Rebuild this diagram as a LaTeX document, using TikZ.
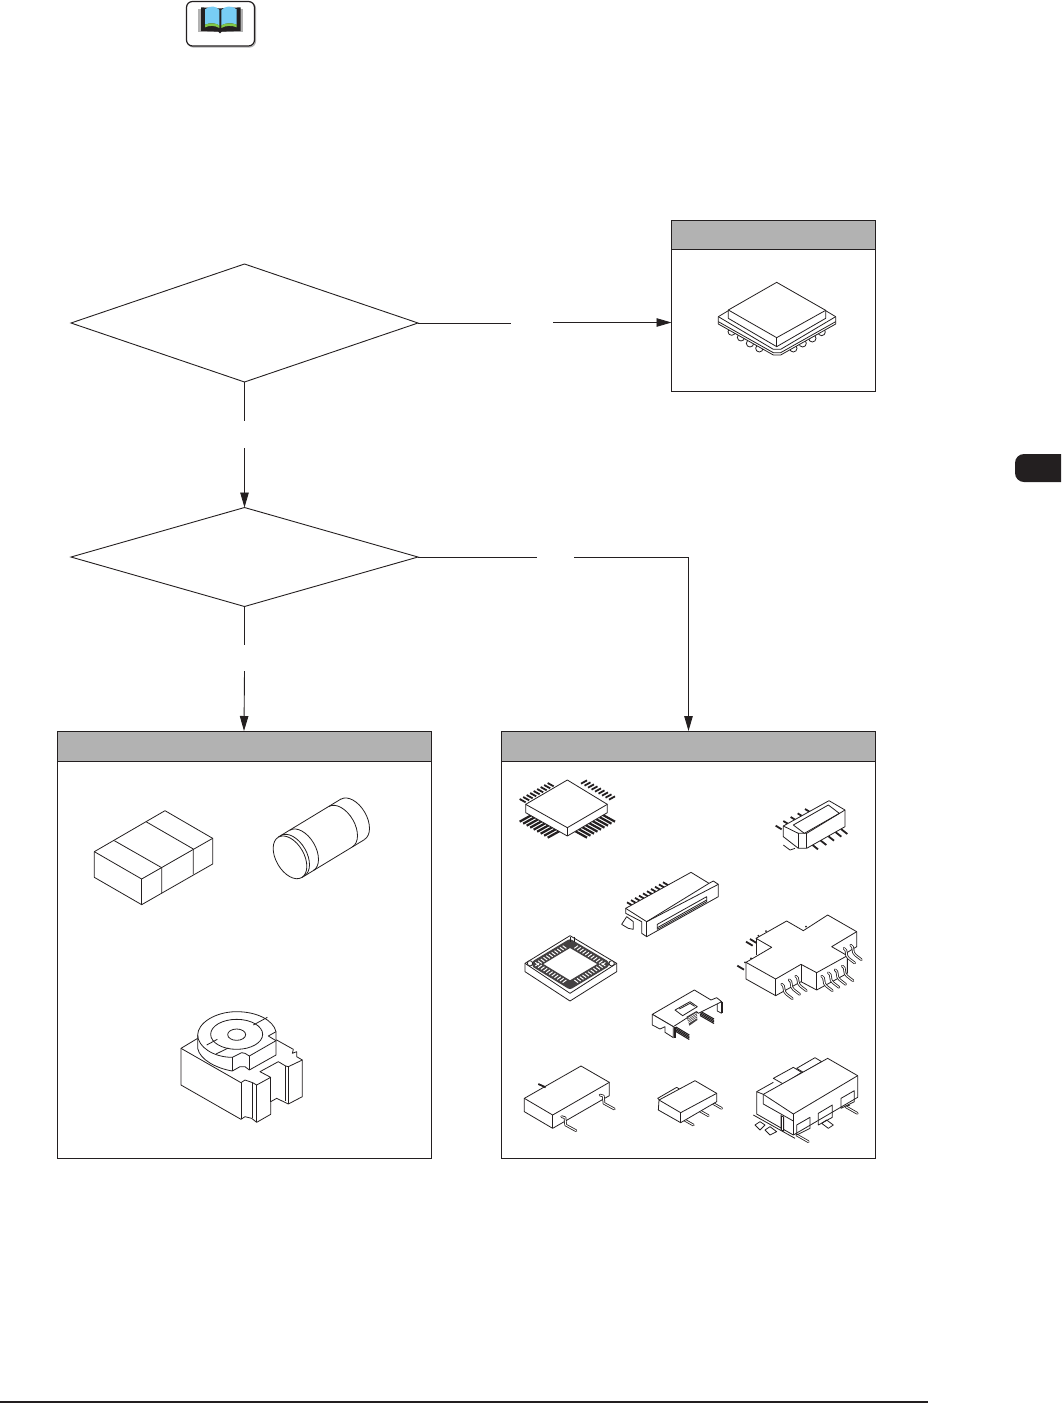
\documentclass[tikz,border=0pt]{standalone}
\usepackage{tikz}
\usetikzlibrary{arrows.meta, positioning, shapes.geometric}
\definecolor{inkdark}{RGB}{35,31,32}
\definecolor{headgray}{RGB}{178,178,178}
\definecolor{pageblue}{RGB}{120,205,245}
\definecolor{pagegreen}{RGB}{130,200,70}

\begin{document}
\begin{tikzpicture}[
    x=1pt, y=-1pt,
    question/.style={diamond, draw=inkdark, line width=0.9pt, minimum width=347pt,
                inner sep=0pt, outer sep=0pt},
    panelbody/.style={rectangle, draw=inkdark, fill=white, line width=1pt, outer sep=0pt},
    panelhead/.style={rectangle, draw=inkdark, fill=headgray, line width=1pt, outer sep=0pt},
    arrow/.style={-{Stealth[length=15pt,width=8.5pt,inset=0pt]}, line width=0.9pt, inkdark},
    plainline/.style={line width=0.9pt, inkdark},
    part/.style 2 args={shift={(#1,#2)}, scale=1/3},
    art/.style={draw=inkdark, line width=0.8pt, line join=round},
    artfill/.style={art, fill=white},
    heavytick/.style={draw=inkdark, line width=1.1pt},
    leadtick/.style={draw=inkdark, line width=1.8pt},
    wingout/.style={draw=inkdark, line width=2.6pt, line cap=round, line join=round},
    wingin/.style={draw=white, line width=1pt, line cap=round, line join=round}
]
\useasboundingbox (0,0) rectangle (1061,1403);

% decisions
\node[question, minimum height=118pt] (firstq) at (244.5,323) {};
\node[question, minimum height=99pt] (secondq) at (244.5,557) {};

% panels
\node[panelbody, minimum width=204pt, minimum height=171pt] (topbody) at (773.5,305.5) {};
\node[panelhead, minimum width=204pt, minimum height=29pt] (tophead) at (773.5,234.5) {};
\node[panelbody, minimum width=374pt, minimum height=427pt] (leftbody) at (244,944.5) {};
\node[panelhead, minimum width=374pt, minimum height=30pt] (lefthead) at (244,746) {};
\node[panelbody, minimum width=374pt, minimum height=427pt] (rightbody) at (688.5,944.5) {};
\node[panelhead, minimum width=374pt, minimum height=30pt] (righthead) at (688.5,746) {};

% connectors, with the gaps they keep
\coordinate (gapA) at (511,323);
\coordinate (gapB) at (553,322.5);
\coordinate (gapC) at (244.5,421);
\coordinate (gapD) at (244.5,448);
\coordinate (gapE) at (244.5,645);
\coordinate (gapF) at (244.5,671);
\coordinate (gapG) at (537,557);
\coordinate (gapH) at (574,557);
\draw[plainline] (firstq.east)--(gapA);
\draw[arrow] (gapB)--(gapB -| topbody.west);
\draw[plainline] (firstq.south)--(gapC);
\draw[arrow] (gapD)--(secondq.north);
\draw[plainline] (secondq.south)--(gapE);
\draw[arrow] (gapF)--(lefthead.north);
\draw[plainline] (secondq.east)--(gapG);
\draw[arrow] (gapH)-|(righthead.north);

% book button
\draw[draw=headgray, line width=1.2pt, rounded corners=6pt] (187.5,2.5) rectangle (255.5,47);
\draw[draw=inkdark, line width=1.2pt, fill=white, rounded corners=6pt] (186.5,1.5) rectangle (254.5,46);
\begin{scope}[part={170}{0}]
\fill[headgray] (85,28) rectangle (220,97);
\fill[inkdark] (93,22) -- (148,25) -- (152,25) -- (212,22) -- (212,93) -- (155,95) -- (150,100) -- (145,95) -- (93,93) -- cycle;
\fill[pageblue] (105,28) .. controls (120,15) and (140,18) .. (148,30) -- (148,76) .. controls (135,68) and (118,68) .. (105,74) -- cycle;
\fill[pageblue] (200,28) .. controls (185,15) and (165,18) .. (154,30) -- (154,76) .. controls (167,68) and (187,68) .. (200,74) -- cycle;
\fill[pagegreen] (105,74) .. controls (118,68) and (135,68) .. (148,76) -- (148,84) .. controls (135,76) and (118,76) .. (105,82) -- cycle;
\fill[pagegreen] (200,74) .. controls (187,68) and (167,68) .. (154,76) -- (154,84) .. controls (167,76) and (187,76) .. (200,82) -- cycle;
\end{scope}

% chapter tab and foot rule
\fill[inkdark] (1061,454) [rounded corners=9pt] -- (1015,454) -- (1015,482) [sharp corners] -- (1061,482) -- cycle;
\fill[inkdark] (0,1401) rectangle (928,1403);

% BGA package
\begin{scope}[part={660}{210}]
\foreach \cx/\cy in {215/365,243/382,270/400,298/415,400/415,428/400,457/385,485/366}
    \draw[artfill] (\cx,\cy) circle (11);
\draw[artfill] (175,320)--(205,302)--(497,302)--(527,320)--(527,342)--(362,435)--(340,435)--(175,342)--cycle;
\draw[art] (175,320)--(340,418)--(362,418)--(527,320);
\draw[art] (175,335)--(340,428)--(362,428)--(527,335);
\draw[artfill] (205,300)--(350,217)--(497,301)--(497,325)--(350,410)--(205,325)--cycle;
\draw[art] (205,300)--(350,383)--(497,301);
\draw[art] (350,383)--(350,410);
\end{scope}

% chip, cylinder and trimmer
\begin{scope}[part={60}{770}]
\draw[art] (103,245)--(315,122)--(458,205)--(458,282)--(245,404)--(103,322)--cycle;
\draw[art] (103,245)--(245,327)--(458,205);
\draw[art] (245,327)--(245,404);
\draw[art] (163,212)--(305,293)--(305,370);
\draw[art] (258,155)--(400,237)--(400,313);
\draw[art] (655,201)--(843,87);
\draw[art] (725,323)--(913,209);
\draw[art, shift={(690,262)}, rotate=-60] (0,0) ellipse (70 and 42);
\foreach \cx/\cy in {698/257,725/241,842/170,878/148}
    \draw[art, shift={(\cx,\cy)}, rotate=-60] (70,0) arc[start angle=0,end angle=-180,x radius=70,y radius=42];

\draw[artfill] (363,835)--(413,805)--(650,810)--(700,838)--(697,850)--(710,845)--(710,860)--(727,870)--(727,980)--(685,1002)--(650,985)--(632,995)--(632,1033)--(590,1057)--(575,1045)--(555,1040)--(543,1048)--(363,945)--cycle;
\draw[art] (363,835)--(543,938)--(555,930)--(578,938)--(590,945)--(632,922)--(600,905)--(655,875)--(677,888)--(685,890)--(727,870);
\draw[art] (543,938)--(543,1048);
\draw[art] (578,938)--(578,1045);
\draw[art] (590,945)--(590,1057);
\draw[art] (632,922)--(632,995);
\draw[art] (677,888)--(677,993);
\draw[art] (685,890)--(685,1002);
\draw[artfill] (413,795) .. controls (413,760) and (465,725) .. (530,725) .. controls (590,725) and (640,750) .. (648,785) -- (648,855) -- (568,900) -- (555,890) -- (540,890) -- (517,903) .. controls (470,895) and (420,870) .. (413,835) -- cycle;
\draw[art] (413,795) .. controls (413,830) and (460,862) .. (517,862) -- (545,848) -- (555,850) -- (568,858) -- (648,812);
\draw[art] (648,785)--(625,798)--(648,812);
\draw[art] (517,862)--(517,903);
\draw[art] (568,858)--(568,900);
\draw[art] (530,793) ellipse (78 and 45);
\draw[art] (530,794) ellipse (27 and 17);
\draw[art] (580,765)--(622,742);
\draw[art] (440,825)--(472,808);
\draw[art] (468,852)--(505,834);
\end{scope}

% QFP, switch, edge connector
\begin{scope}[part={505}{765}]
\foreach \i in {0,...,8} {
    \draw[leadtick] (62+\i*10.5,112-\i*6)--++(-18,-10);
    \draw[leadtick] (228+\i*10.5,56+\i*6)--++(18,-10);
    \draw[wingout, line cap=butt, line width=2.2pt] (80+\i*10.5,150+\i*6)--++(-36,20);
    \draw[wingout, line cap=butt, line width=2.2pt] (294-\i*10.5,150+\i*6)--++(36,20);
}
\draw[artfill] (62,118)--(187,45)--(307,118)--(307,143)--(187,213)--(62,143)--cycle;
\draw[art] (62,118)--(187,188)--(307,118);
\draw[art] (187,188)--(187,213);

\foreach \ax/\ay in {812/182,835/168,857/156,878/145,900/132}
    \draw[leadtick] (\ax,\ay)--++(18,11);
\foreach \ax/\ay in {920/238,945/225,968/212,990/200,1008/192}
    \draw[leadtick] (\ax,\ay)--++(19,15);
\draw[art] (835,240)--(855,255)--(870,250);
\draw[artfill] (835,183)--(972,107)--(1020,135)--(1020,185)--(905,250)--(880,250)--(835,215)--cycle;
\draw[art] (835,183)--(880,205)--(905,205)--(1020,135);
\draw[art] (880,205)--(880,250);
\draw[art] (905,205)--(905,250);
\draw[art] (865,180)--(970,120)--(1003,145)--(898,205)--cycle;

\foreach \i in {0,...,9}
    \draw[leadtick] (385+\i*12,423-\i*6.7)--++(-19,-11);
\draw[art] (350,478)--(365,455)--(385,470)--(385,493)--(370,490)--cycle;
\draw[artfill] (362,430)--(558,322)--(612,355)--(625,348)--(640,358)--(640,395)--(425,515)--(410,505)--(410,470)--(362,445)--cycle;
\draw[art] (362,430)--(425,470)--(612,355);
\draw[art] (425,470)--(640,358);
\draw[art] (425,470)--(425,515);
\draw[art] (457,478)--(605,395)--(605,410)--(457,493)--cycle;
\draw[art] (457,488)--(605,405);
\end{scope}

% socket with its ring of contacts
\begin{scope}[part={515}{925}]
\draw[art] (30,115)--(165,32)--(305,115)--(305,140)--(165,228)--(30,140)--cycle;
\draw[art] (30,115)--(165,205)--(305,115);
\draw[line width=8pt, inkdark!85, line join=round] (62,117)--(165,55)--(270,117)--(165,180)--cycle;
\foreach \i in {0,...,10} {
    \draw[draw=white, line width=1pt] (72+\i*8.2,120-\i*5)--++(-11,-8);
    \draw[draw=white, line width=1pt] (178+\i*8.2,70+\i*5)--++(11,-8);
    \draw[draw=white, line width=1pt] (72+\i*8.2,115+\i*5)--++(-11,8);
    \draw[draw=white, line width=1pt] (178+\i*8.2,165-\i*5)--++(11,8);
}
\draw[artfill] (45,115) circle (8);
\draw[artfill] (290,115) circle (8);
\draw[art] (165,35)--(165,50);
\draw[art] (178,35)--(178,50);
\end{scope}

% cross-shaped part
\begin{scope}[part={730}{905}]
\foreach \ax/\ay in {48/110,60/102,22/182}
    \draw[leadtick] (\ax,\ay)--++(20,12);
\draw[artfill] (48,172)--(125,127)--(78,100)--(170,48)--(220,77)--(293,30)--(380,80)--(380,125)--(352,142)--(352,205)--(260,255)--(213,230)--(137,272)--(48,222)--cycle;
\draw[art] (48,172)--(137,222)--(213,178)--(260,203)--(352,152)--(305,125)--(380,80);
\draw[art] (137,222)--(137,272);
\draw[art] (213,178)--(213,230);
\draw[art] (260,203)--(260,255);
\draw[art] (352,152)--(352,205);
\draw[art] (78,100)--(78,150);
\foreach \ax/\ay in {155/237,177/224,197/213,275/213,295/203,315/194,337/183,342/130,362/120} {
    \draw[wingout] (\ax,\ay) .. controls (\ax+12,\ay+5) and (\ax+2,\ay+22) .. (\ax+14,\ay+30) -- (\ax+32,\ay+44);
    \draw[wingin] (\ax,\ay) .. controls (\ax+12,\ay+5) and (\ax+2,\ay+22) .. (\ax+14,\ay+30) -- (\ax+32,\ay+44);
}
\foreach \ax/\ay in {85/92,108/78,228/65,45/172,63/160}
    \fill[inkdark] (\ax,\ay) circle (3);
\end{scope}

% small header
\begin{scope}[part={640}{985}]
\foreach \i in {0,...,3} {
    \draw[heavytick] (180,78+\i*4.5)--++(42,24);
    \draw[heavytick] (108,126+\i*4.5)--++(40,24);
}
\draw[artfill] (37,88)--(163,15)--(213,45)--(230,38)--(245,50)--(175,85)--(170,80)--(100,125)--cycle;
\draw[artfill] (37,88)--(100,125)--(100,158)--(75,142)--(75,125)--(60,132)--(37,120)--cycle;
\draw[art] (105,75)--(150,50)--(172,65)--(128,92)--cycle;
\draw[art] (118,72)--(150,55)--(164,64);
\draw[art] (232,57)--(232,78)--(245,85);
\draw[heavytick, line width=2pt] (245,50)--(245,85);
\draw[heavytick, line width=2pt] (104,125)--(104,158);
\fill[inkdark!85] (140,95)--(170,78)--(172,105)--(148,122)--cycle;
\foreach \i in {0,...,3}
    \draw[draw=white, line width=0.6pt] (144,100+\i*5)--++(26,-16);
\end{scope}

% lower row
\begin{scope}[part={505}{960}]
\draw[artfill] (58,415)--(228,318)--(313,367)--(313,407)--(143,505)--(58,455)--cycle;
\draw[art] (58,415)--(143,465)--(313,367);
\draw[art] (143,465)--(143,505);
\draw[leadtick] (100,372)--(122,382);
\foreach \ax/\ay in {285/405,170/470} {
    \draw[wingout] (\ax,\ay)--(\ax+10,\ay+3)--(\ax+12,\ay+25)--(\ax+43,\ay+42);
    \draw[wingin] (\ax,\ay)--(\ax+10,\ay+3)--(\ax+12,\ay+25)--(\ax+43,\ay+42);
}

\foreach \ax/\ay in {535/478,580/450,620/428} {
    \draw[wingout] (\ax,\ay)--++(30,17);
    \draw[wingin] (\ax,\ay)--++(30,17);
}
\draw[artfill] (458,415)--(515,382)--(528,390)--(470,427)--cycle;
\draw[artfill] (462,420)--(570,362)--(635,400)--(635,425)--(527,488)--(460,450)--cycle;
\draw[art] (462,420)--(527,458)--(635,400);
\draw[art] (527,458)--(527,488);

\draw[artfill] (805,355)--(865,322)--(890,337)--(835,372)--cycle;
\draw[artfill] (875,325)--(930,293)--(950,305)--(895,337)--cycle;
\draw[art] (745,465)--(870,535);
\draw[art] (750,495)--(765,485)--(780,495)--(765,510)--cycle;
\draw[art] (780,510)--(795,500)--(815,515)--(795,525)--cycle;
\draw[art] (950,490)--(965,480)--(985,495)--(970,505)--cycle;
\draw[art] (1020,440)--(1035,435);
\foreach \ax/\ay in {875/525,1022/440} {
    \draw[wingout] (\ax,\ay)--++(35,20);
    \draw[wingin] (\ax,\ay)--++(35,20);
}
\draw[art] (755,395)--(805,367);
\draw[artfill] (775,403)--(968,295)--(1058,347)--(1058,412)--(865,525)--(755,462)--(755,395)--cycle;
\draw[art] (775,403)--(865,462)--(1058,347);
\draw[art] (865,462)--(865,525);
\draw[art] (775,403)--(775,432)--(865,483);
\draw[art] (875,495)--(915,472)--(915,505)--(875,525)--cycle;
\draw[art] (940,460)--(982,435)--(982,472)--(940,495)--cycle;
\draw[art] (1008,415)--(1048,392)--(1048,425)--(1008,445)--cycle;
\fill[inkdark] (827,465)--(837,470)--(837,515)--(827,510)--cycle;
\fill[white] (830,470) rectangle (834,510);
\end{scope}
\end{tikzpicture}
\end{document}
